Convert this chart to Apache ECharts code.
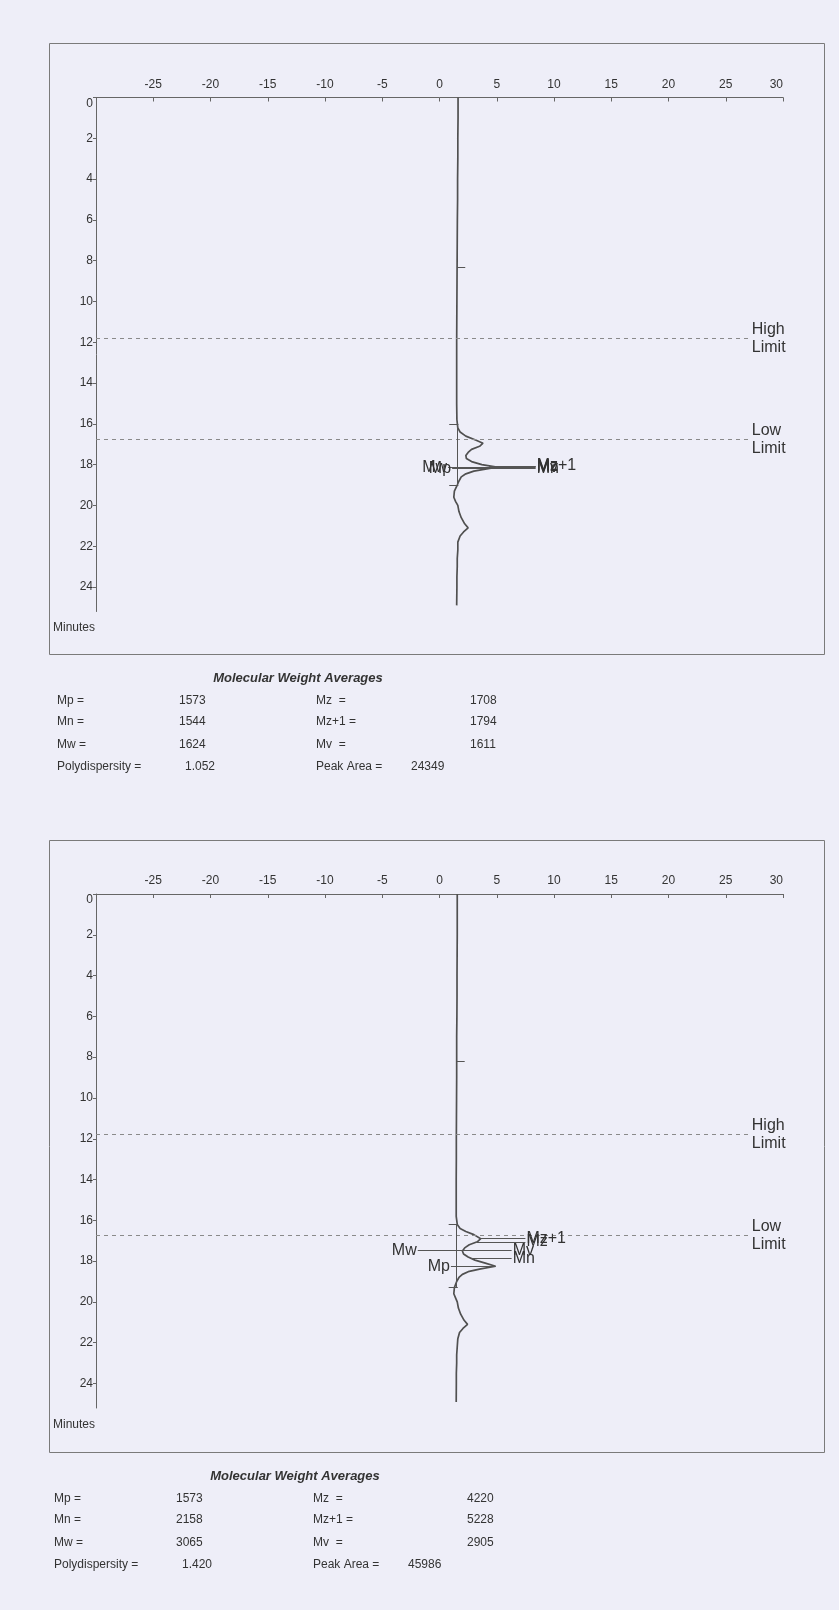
<!DOCTYPE html>
<html>
<head>
<meta charset="utf-8">
<title>Molecular Weight Averages</title>
<script src="https://cdn.jsdelivr.net/npm/echarts@6/dist/echarts.min.js"></script>
<style>
  html, body { margin: 0; padding: 0; background: #eeeef8; }
  #main { width: 839px; height: 1610px; }
</style>
</head>
<body>
<div id="main"></div>
<script>
// axes
var signalRange = [-30, 30];
var signalStep = 5;
var timeRange = [0, 25.2];
var timeStep = 2;
var limitHigh = 11.8;
var limitLow = 16.75;
var limitEnd = 27.1;

// run 1 trace (minutes / signal)
var run1Time = [0, 1, 2, 3, 4, 5, 6, 7, 8, 9, 10, 11, 12, 13, 14, 15, 15.8, 16.2, 16.4, 16.6, 16.8, 16.95, 17.1, 17.25, 17.4, 17.55, 17.7, 17.85, 18.0, 18.12, 18.22, 18.32, 18.45, 18.6, 18.8, 19.0, 19.3, 19.6, 19.8, 20.0, 20.3, 20.6, 20.9, 21.1, 21.3, 21.5, 21.8, 22.2, 22.6, 23.0, 23.5, 24.0, 24.9];
var run1Signal = [1.62, 1.62, 1.6, 1.6, 1.58, 1.58, 1.56, 1.55, 1.54, 1.53, 1.52, 1.51, 1.5, 1.5, 1.5, 1.5, 1.52, 1.6, 1.8, 2.3, 3.2, 3.8, 3.5, 2.8, 2.5, 2.3, 2.35, 2.8, 3.7, 5.0, 4.0, 3.0, 2.3, 1.9, 1.7, 1.55, 1.3, 1.25, 1.4, 1.6, 1.7, 1.9, 2.2, 2.5, 2.1, 1.8, 1.6, 1.6, 1.55, 1.55, 1.52, 1.52, 1.5];
var run1Base = [1.55, 16.0, 19.0, 8.3];
var run1MarkName = ['Mw', 'Mp', 'Mz+1', 'Mz', 'Mv', 'Mn'];
var run1MarkTime = [18.13, 18.18, 18.06, 18.1, 18.14, 18.18];
var run1MarkEnd = [0.75, 1.1, 8.4, 8.4, 8.4, 8.4];

// run 2 trace
var run2Time = [0, 1, 2, 3, 4, 5, 6, 7, 8, 9, 10, 11, 12, 13, 14, 15, 15.8, 16.2, 16.4, 16.55, 16.7, 16.9, 17.05, 17.2, 17.35, 17.5, 17.65, 17.8, 17.95, 18.1, 18.25, 18.38, 18.5, 18.65, 18.8, 19.0, 19.3, 19.6, 19.8, 20.0, 20.3, 20.6, 20.9, 21.1, 21.3, 21.5, 21.8, 22.2, 22.6, 23.0, 23.5, 24.0, 24.9];
var run2Signal = [1.55, 1.55, 1.55, 1.54, 1.53, 1.53, 1.52, 1.5, 1.5, 1.5, 1.49, 1.48, 1.47, 1.47, 1.46, 1.46, 1.46, 1.55, 1.8, 2.3, 3.0, 3.6, 3.3, 2.6, 2.2, 2.0, 2.1, 2.5, 3.1, 4.0, 4.9, 3.6, 2.6, 2.0, 1.7, 1.5, 1.3, 1.25, 1.4, 1.55, 1.65, 1.85, 2.15, 2.45, 2.05, 1.75, 1.6, 1.55, 1.5, 1.5, 1.47, 1.47, 1.46];
var run2Base = [1.5, 16.2, 19.3, 8.2];
var run2MarkName = ['Mz+1', 'Mz', 'Mw', 'Mv', 'Mn', 'Mp'];
var run2MarkTime = [16.87, 17.06, 17.48, 17.46, 17.86, 18.25];
var run2MarkEnd = [7.5, 7.5, -1.9, 6.3, 6.3, 1.0];

// table
var tableLeftNames = ['Mp =', 'Mn =', 'Mw =', 'Polydispersity ='];
var tableRightNames = ['Mz  =', 'Mz+1 =', 'Mv  =', 'Peak Area ='];
var run1LeftValues = ['1573', '1544', '1624', '1.052'];
var run1RightValues = ['1708', '1794', '1611', '24349'];
var run2LeftValues = ['1573', '2158', '3065', '1.420'];
var run2RightValues = ['4220', '5228', '2905', '45986'];

var font = "'Liberation Sans', Arial, sans-serif";
var ink = '#333';

function traceAt(times, sig, t) {
  for (var i = 1; i < times.length; i++) {
    if (t <= times[i]) {
      var f = (t - times[i - 1]) / (times[i] - times[i - 1]);
      return sig[i - 1] + f * (sig[i] - sig[i - 1]);
    }
  }
  return sig[sig.length - 1];
}

function limitLine(t, text) {
  return [
    { coord: [signalRange[0], t],
      lineStyle: { type: [4, 4], color: '#8a8a8a', width: 1 },
      label: { show: true, position: 'end', distance: 2, formatter: text, fontSize: 16, lineHeight: 18, color: ink, fontFamily: font } },
    { coord: [limitEnd, t] }
  ];
}

function seg(x1, y1, x2, y2) {
  return [{ coord: [x1, y1] }, { coord: [x2, y2] }];
}

function runSeries(idx, times, sig, base, names, mtimes, mends) {
  var data = [];
  for (var i = 0; i < times.length; i++) data.push([sig[i], times[i]]);
  var ml = [limitLine(limitHigh, 'High\nLimit'), limitLine(limitLow, 'Low\nLimit')];
  // integration baseline and its ticks
  ml.push(seg(base[0], base[1], base[0], base[2]));
  ml.push(seg(base[0] - 0.7, base[1], base[0] + 0.1, base[1]));
  ml.push(seg(base[0] - 0.7, base[2], base[0] + 0.1, base[2]));
  ml.push(seg(base[0], base[3], base[0] + 0.7, base[3]));
  for (var k = 0; k < names.length; k++) {
    var t = mtimes[k];
    ml.push([
      { coord: [traceAt(times, sig, t), t],
        label: { show: true, position: 'end', distance: 1, formatter: names[k], fontSize: 16, color: ink, fontFamily: font } },
      { coord: [mends[k], t] }
    ]);
  }
  return {
    type: 'line',
    xAxisIndex: idx,
    yAxisIndex: idx,
    data: data,
    showSymbol: false,
    symbol: 'none',
    silent: true,
    lineStyle: { color: '#505050', width: 1.7 },
    markLine: {
      silent: true,
      symbol: ['none', 'none'],
      animation: false,
      label: { show: false },
      lineStyle: { color: '#555', width: 1, type: 'solid' },
      emphasis: { disabled: true },
      data: ml
    }
  };
}

function xAxisFor(idx) {
  return {
    gridIndex: idx,
    type: 'value',
    position: 'top',
    min: signalRange[0],
    max: signalRange[1],
    interval: signalStep,
    axisLine: { show: true, onZero: false, lineStyle: { color: '#666' } },
    axisTick: { show: true, inside: true, length: 4, lineStyle: { color: '#666' } },
    axisLabel: { showMinLabel: false, alignMaxLabel: 'right', margin: 7, fontSize: 12, color: ink, fontFamily: font },
    splitLine: { show: false }
  };
}

function yAxisFor(idx) {
  return {
    gridIndex: idx,
    type: 'value',
    inverse: true,
    min: timeRange[0],
    max: timeRange[1],
    interval: timeStep,
    axisLine: { show: true, onZero: false, lineStyle: { color: '#666' } },
    axisTick: { show: true, length: 3, lineStyle: { color: '#666' } },
    axisLabel: { showMaxLabel: false, verticalAlignMinLabel: 'top', margin: 3, fontSize: 12, color: ink, fontFamily: font },
    splitLine: { show: false }
  };
}

function txt(x, y, s, opt) {
  opt = opt || {};
  return {
    type: 'text',
    silent: true,
    style: {
      x: x, y: y, text: s,
      fill: ink,
      font: opt.font || ('12px ' + font),
      align: opt.align || 'left', textAlign: opt.align || 'left',
      verticalAlign: 'middle', textVerticalAlign: 'middle'
    }
  };
}

function tableBlock(dy, dx, leftVals, rightVals) {
  var rows = [701, 722, 745, 767];
  var out = [];
  out.push(txt(298 + dx, 678 + dy, 'Molecular Weight Averages', { align: 'center', font: 'italic bold 13px ' + font }));
  for (var r = 0; r < 4; r++) {
    var y = rows[r] + dy;
    out.push(txt(57 + dx, y, tableLeftNames[r]));
    out.push(txt((r == 3 ? 185 : 179) + dx, y, leftVals[r]));
    out.push(txt(316 + dx, y, tableRightNames[r]));
    out.push(txt((r == 3 ? 411 : 470) + dx, y, rightVals[r]));
  }
  return out;
}

var graphics = [
  { type: 'rect', silent: true, shape: { x: 49.5, y: 43.5, width: 775, height: 611 }, style: { fill: 'none', stroke: '#7a7a7a', lineWidth: 1 } },
  { type: 'rect', silent: true, shape: { x: 49.5, y: 840.5, width: 775, height: 612 }, style: { fill: 'none', stroke: '#7a7a7a', lineWidth: 1 } },
  txt(95, 628, 'Minutes', { align: 'right' }),
  txt(95, 1425, 'Minutes', { align: 'right' })
].concat(tableBlock(0, 0, run1LeftValues, run1RightValues))
 .concat(tableBlock(798, -3, run2LeftValues, run2RightValues));

var chart = echarts.init(document.getElementById('main'));
chart.setOption({
  animation: false,
  backgroundColor: '#eeeef8',
  textStyle: { fontFamily: font },
  grid: [
    { left: 96, top: 97.5, width: 687, height: 514 },
    { left: 96, top: 894, width: 687, height: 514 }
  ],
  xAxis: [xAxisFor(0), xAxisFor(1)],
  yAxis: [yAxisFor(0), yAxisFor(1)],
  series: [
    runSeries(0, run1Time, run1Signal, run1Base, run1MarkName, run1MarkTime, run1MarkEnd),
    runSeries(1, run2Time, run2Signal, run2Base, run2MarkName, run2MarkTime, run2MarkEnd)
  ],
  graphic: graphics
});
</script>
</body>
</html>
